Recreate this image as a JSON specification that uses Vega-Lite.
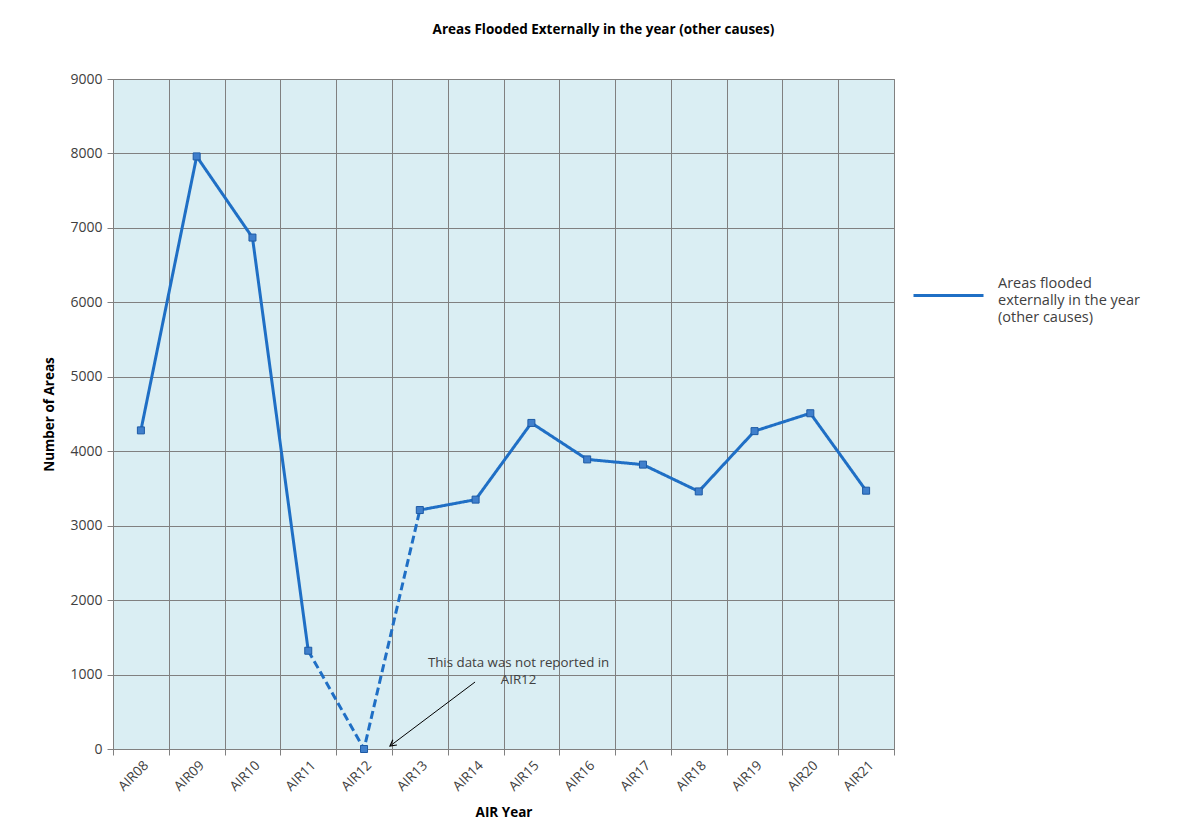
{
  "$schema": "https://vega.github.io/schema/vega-lite/v6.json",
  "width": 781,
  "height": 670,
  "autosize": {"type": "none"},
  "padding": {"left": 113, "top": 79, "right": 298, "bottom": 83},
  "background": "white",
  "title": {
    "text": "Areas Flooded Externally in the year (other causes)",
    "font": "Open Sans",
    "fontSize": 13.5,
    "fontWeight": "bold",
    "color": "#000000",
    "anchor": "middle",
    "dx": 100,
    "offset": 36
  },
  "datasets": {
    "points": [
      {"year": "AIR08", "value": 4280},
      {"year": "AIR09", "value": 7960},
      {"year": "AIR10", "value": 6870},
      {"year": "AIR11", "value": 1320},
      {"year": "AIR12", "value": 0},
      {"year": "AIR13", "value": 3210},
      {"year": "AIR14", "value": 3350},
      {"year": "AIR15", "value": 4380},
      {"year": "AIR16", "value": 3890},
      {"year": "AIR17", "value": 3820},
      {"year": "AIR18", "value": 3460},
      {"year": "AIR19", "value": 4270},
      {"year": "AIR20", "value": 4510},
      {"year": "AIR21", "value": 3470}
    ],
    "segments": [
      {"year": "AIR08", "value": 4280, "part": "a", "style": "solid", "series": "Areas flooded externally in the year (other causes)"},
      {"year": "AIR09", "value": 7960, "part": "a", "style": "solid", "series": "Areas flooded externally in the year (other causes)"},
      {"year": "AIR10", "value": 6870, "part": "a", "style": "solid", "series": "Areas flooded externally in the year (other causes)"},
      {"year": "AIR11", "value": 1320, "part": "a", "style": "solid", "series": "Areas flooded externally in the year (other causes)"},
      {"year": "AIR11", "value": 1320, "part": "b", "style": "dashed", "series": "Areas flooded externally in the year (other causes)"},
      {"year": "AIR12", "value": 0, "part": "b", "style": "dashed", "series": "Areas flooded externally in the year (other causes)"},
      {"year": "AIR13", "value": 3210, "part": "b", "style": "dashed", "series": "Areas flooded externally in the year (other causes)"},
      {"year": "AIR13", "value": 3210, "part": "c", "style": "solid", "series": "Areas flooded externally in the year (other causes)"},
      {"year": "AIR14", "value": 3350, "part": "c", "style": "solid", "series": "Areas flooded externally in the year (other causes)"},
      {"year": "AIR15", "value": 4380, "part": "c", "style": "solid", "series": "Areas flooded externally in the year (other causes)"},
      {"year": "AIR16", "value": 3890, "part": "c", "style": "solid", "series": "Areas flooded externally in the year (other causes)"},
      {"year": "AIR17", "value": 3820, "part": "c", "style": "solid", "series": "Areas flooded externally in the year (other causes)"},
      {"year": "AIR18", "value": 3460, "part": "c", "style": "solid", "series": "Areas flooded externally in the year (other causes)"},
      {"year": "AIR19", "value": 4270, "part": "c", "style": "solid", "series": "Areas flooded externally in the year (other causes)"},
      {"year": "AIR20", "value": 4510, "part": "c", "style": "solid", "series": "Areas flooded externally in the year (other causes)"},
      {"year": "AIR21", "value": 3470, "part": "c", "style": "solid", "series": "Areas flooded externally in the year (other causes)"}
    ],
    "note": [
      {"ix": 7.27, "iy": 1155, "label": "This data was not reported in\nAIR12"}
    ],
    "arrow": [
      {"x1": 6.49, "y1": 900, "x2": 4.965, "y2": 40}
    ]
  },
  "layer": [
    {
      "layer": [
        {
          "data": {"name": "segments"},
          "mark": {"type": "line", "strokeWidth": 3},
          "encoding": {
            "x": {
              "field": "year",
              "type": "ordinal",
              "bandPosition": 0.5,
              "scale": {"type": "band", "paddingInner": 0, "paddingOuter": 0},
              "sort": null,
              "axis": {
                "title": "AIR Year",
                "grid": true,
                "tickBand": "extent",
                "labelAngle": -45,
                "labelFontSize": 13.5,
                "labelPadding": 3,
                "titlePadding": 12
              }
            },
            "y": {
              "field": "value",
              "type": "quantitative",
              "scale": {"domain": [0, 9000], "nice": false},
              "axis": {
                "title": "Number of Areas",
                "values": [0, 1000, 2000, 3000, 4000, 5000, 6000, 7000, 8000, 9000],
                "format": "d",
                "grid": true,
                "labelFontSize": 14,
                "labelPadding": 5,
                "titlePadding": 13
              }
            },
            "color": {
              "field": "series",
              "type": "nominal",
              "scale": {"range": ["#1f6fc5"]},
              "legend": {
                "title": null,
                "orient": "none",
                "legendX": 799,
                "legendY": 180,
                "symbolType": "stroke",
                "symbolSize": 4900,
                "symbolStrokeWidth": 3,
                "symbolStrokeColor": "#2f6bbf",
                "labelFont": "Open Sans",
                "labelFontSize": 14.5,
                "labelColor": "#404040",
                "labelOffset": 13,
                "labelLimit": 300,
                "labelExpr": "['Areas flooded', 'externally in the year', '(other causes)']",
                "padding": 0,
                "encode": {
                  "labels": {"update": {"dy": {"value": -12}, "lineHeight": {"value": 17}}}
                }
              }
            },
            "strokeDash": {
              "field": "style",
              "type": "nominal",
              "scale": {"domain": ["solid", "dashed"], "range": [[1, 0], [8, 4]]},
              "legend": null
            },
            "detail": {"field": "part", "type": "nominal"}
          }
        },
        {
          "data": {"name": "points"},
          "mark": {"type": "point", "shape": "square", "filled": true, "size": 49, "fill": "#3f7fcc", "stroke": "#1d5aa5", "strokeWidth": 1, "opacity": 1},
          "encoding": {
            "x": {"field": "year", "type": "ordinal", "bandPosition": 0.5, "sort": null, "scale": {"type": "band", "paddingInner": 0, "paddingOuter": 0}},
            "y": {"field": "value", "type": "quantitative"}
          }
        }
      ]
    },
    {
      "data": {"name": "arrow"},
      "mark": {"type": "rule", "color": "#000000", "strokeWidth": 1},
      "encoding": {
        "x": {"field": "x1", "type": "quantitative", "scale": {"domain": [0, 14], "nice": false, "zero": false}, "axis": null},
        "x2": {"field": "x2"},
        "y": {"field": "y1", "type": "quantitative"},
        "y2": {"field": "y2"}
      }
    },
    {
      "data": {"name": "arrow"},
      "mark": {"type": "point", "shape": "M -0.55 1 L 0 0 L 0.55 1", "filled": false, "stroke": "#000000", "strokeWidth": 1.2, "size": 150, "angle": 233, "opacity": 1},
      "encoding": {
        "x": {"field": "x2", "type": "quantitative", "scale": {"domain": [0, 14], "nice": false, "zero": false}, "axis": null},
        "y": {"field": "y2", "type": "quantitative"}
      }
    },
    {
      "data": {"name": "note"},
      "mark": {"type": "text", "font": "Open Sans", "fontSize": 13.3, "color": "#404040", "align": "center", "baseline": "middle", "lineBreak": "\n", "lineHeight": 17},
      "encoding": {
        "x": {"field": "ix", "type": "quantitative", "scale": {"domain": [0, 14], "nice": false, "zero": false}, "axis": null},
        "y": {"field": "iy", "type": "quantitative"},
        "text": {"field": "label"}
      }
    }
  ],
  "resolve": {"scale": {"x": "independent"}},
  "config": {
    "view": {"fill": "#daeef3", "stroke": "#7f7f7f", "strokeWidth": 1},
    "axis": {
      "gridColor": "#808080",
      "gridOpacity": 1,
      "gridWidth": 1,
      "domainColor": "#808080",
      "tickColor": "#808080",
      "tickSize": 6,
      "labelFont": "Open Sans",
      "labelColor": "#404040",
      "labelPadding": 4,
      "titleFont": "Open Sans",
      "titleFontSize": 13.5,
      "titleFontWeight": "bold",
      "titleColor": "#000000"
    }
  }
}
